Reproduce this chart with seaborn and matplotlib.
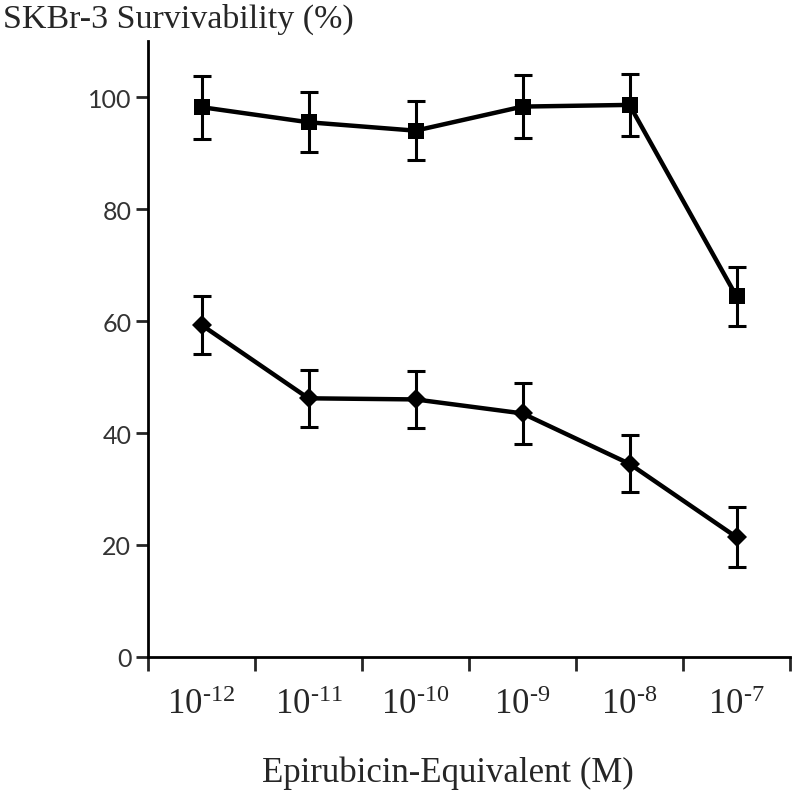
import pandas as pd
import numpy as np
import matplotlib
matplotlib.use('Agg')
import matplotlib.pyplot as plt
import seaborn as sns

# concentrations (M) and survivability (%)
conc_labels = [r'$\mathregular{10^{\text{-}12}}$', r'$\mathregular{10^{\text{-}11}}$',
               r'$\mathregular{10^{\text{-}10}}$', r'$\mathregular{10^{\text{-}9}}$',
               r'$\mathregular{10^{\text{-}8}}$', r'$\mathregular{10^{\text{-}7}}$']
upper_mean = [98.2, 95.5, 94.0, 98.3, 98.6, 64.4]
upper_err = [5.6, 5.4, 5.3, 5.6, 5.6, 5.3]
lower_mean = [59.3, 46.2, 46.0, 43.5, 34.5, 21.4]
lower_err = [5.1, 5.1, 5.1, 5.4, 5.1, 5.4]

df = pd.DataFrame({'pos': np.arange(len(conc_labels)),
                   'upper': upper_mean, 'lower': lower_mean})

sns.set_style('ticks')
plt.rcParams['font.family'] = ['Lato', 'DejaVu Sans']
plt.rcParams['mathtext.fontset'] = 'custom'
plt.rcParams['mathtext.rm'] = 'Liberation Serif'

fig = plt.figure(figsize=(8, 8.03), dpi=100)
ax = fig.add_axes([0.185, 0.1806, 0.8025, 0.767])

sns.lineplot(data=df, x='pos', y='upper', marker='s', markersize=11, color='black',
             linewidth=3.2, markeredgewidth=0, ax=ax)
sns.lineplot(data=df, x='pos', y='lower', marker='D', markersize=10, color='black',
             linewidth=3.2, markeredgewidth=0, ax=ax)
ax.errorbar(df['pos'], df['upper'], yerr=upper_err, fmt='none', ecolor='black',
            elinewidth=2.2, capsize=6.5, capthick=2.2)
ax.errorbar(df['pos'], df['lower'], yerr=lower_err, fmt='none', ecolor='black',
            elinewidth=2.2, capsize=6.5, capthick=2.2)

ax.set_xlim(-0.5, 5.5)
ax.set_ylim(0, 110)
ax.set_yticks([0, 20, 40, 60, 80, 100])
ax.set_xticks(df['pos'])
ax.set_xticklabels(conc_labels, fontsize=25, family='Liberation Serif')
ax.set_xticks(np.arange(-0.5, 6.0, 1.0), minor=True)
ax.tick_params(axis='x', which='major', length=0, pad=22)
ax.tick_params(axis='x', which='minor', length=10, width=2, direction='out')
ax.tick_params(axis='y', length=9, width=2, direction='out', labelsize=18,
               labelcolor='#333333', pad=3)
ax.set_xlabel('Epirubicin-Equivalent (M)', fontsize=25, family='Liberation Serif')
ax.xaxis.set_label_coords(0.467, -0.16)
ax.set_ylabel('')

sns.despine(ax=ax)
for s in ['left', 'bottom']:
    ax.spines[s].set_linewidth(2)
    ax.spines[s].set_color('black')

fig.text(0.004, 0.995, 'SKBr-3 Survivability (%)', fontsize=24.5, family='Liberation Serif',
         ha='left', va='top')

fig.savefig('out.png', dpi=100)
